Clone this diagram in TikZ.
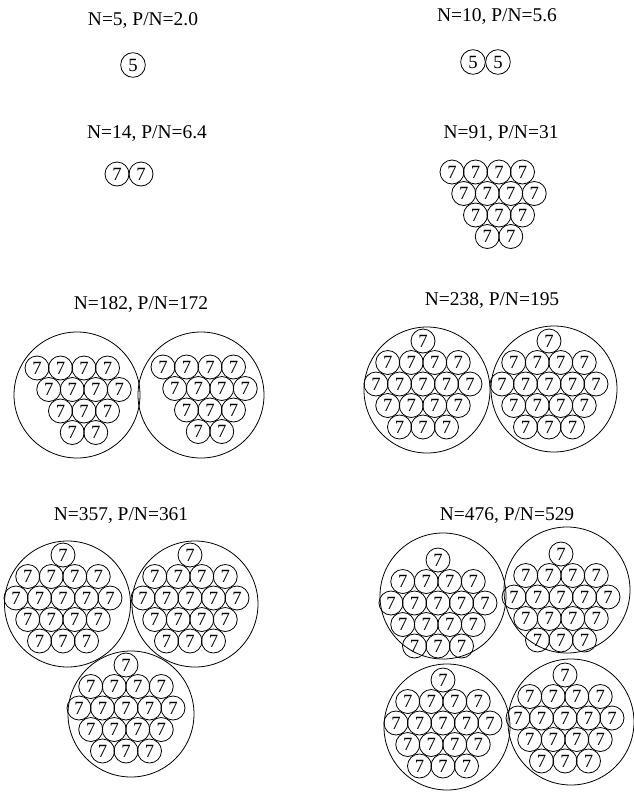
\documentclass[tikz,border=0pt]{standalone}
\usepackage{fontspec}
\setmainfont{Liberation Serif}
\def\DX{23.5}
\def\DY{21.5}
\tikzset{
  ttl/.style={font=\fontsize{14.6}{16}\selectfont, inner sep=0pt, anchor=center},
  sm/.style={circle, draw, line width=0.6pt, minimum size=18pt, inner sep=0pt, font=\fontsize{14}{14}\selectfont},
  smv/.style={circle, draw, line width=0.6pt, minimum size=18.5pt, inner sep=0pt, font=\fontsize{14}{14}\selectfont},
  big/.style={circle, draw, line width=0.6pt, minimum size=94.5pt, inner sep=0pt}
}
\newcommand{\tricl}[3]{%
  \foreach \r/\n/\s in {0/4/0, 1/4/0.5, 2/3/1, 3/2/1.5} {
    \foreach \i in {1,...,\n} {
      \node[sm] (#1-\r-\i) at ({#2+(\s+\i-1)*\DX}, {#3+\r*\DY}) {7};
    }
  }
}
\newcommand{\hexcl}[3]{%
  \node[sm] (#1-0-1) at (#2, {#3-2*\DY}) {7};
  \foreach \r/\n/\s in {1/4/-1.5, 2/5/-2, 3/4/-1.5, 4/3/-1} {
    \foreach \i in {1,...,\n} {
      \node[sm] (#1-\r-\i) at ({#2+(\s+\i-1)*\DX}, {#3+(\r-2)*\DY}) {7};
    }
  }
}
\begin{document}
\begin{tikzpicture}[x=0.75pt, y=-0.75pt]
\useasboundingbox (0,0) rectangle (633,793);
% titles
\node[ttl] (t1) at (143,21) {N=5, P/N=2.0};
\node[ttl] (t2) at (497,17) {N=10, P/N=5.6};
\node[ttl] (t3) at (147,134) {N=14, P/N=6.4};
\node[ttl] (t4) at (501,134) {N=91, P/N=31};
\node[ttl] (t5) at (141,305) {N=182, P/N=172};
\node[ttl] (t6) at (492,301) {N=238, P/N=195};
\node[ttl] (t7) at (121,516) {N=357, P/N=361};
\node[ttl] (t8) at (507,516) {N=476, P/N=529};
% N=5
\node[smv] (a1) at (133,65) {5};
% N=10
\node[smv] (b1) at (473,62) {5};
\node[smv] (b2) at (498,62) {5};
% N=14
\node[sm] (c1) at (117,174) {7};
\node[sm] (c2) at (141,174) {7};
% N=91
\tricl{d}{452}{172}
% N=182
\node[big] (e1) at (77,395) {};
\node[big] (e2) at (201,395) {};
\tricl{ea}{37}{368}
\tricl{eb}{163}{367}
% N=238
\node[big] (f1) at (427,390) {};
\node[big] (f2) at (554,389) {};
\hexcl{fa}{423}{384}
\hexcl{fb}{549}{384}
% N=357
\node[big] (g1) at (67.5,604) {};
\node[big] (g2) at (195,604) {};
\node[big] (g3) at (131,714) {};
\hexcl{ga}{63}{598}
\hexcl{gb}{190}{598}
\hexcl{gc}{126}{708}
% N=476
\node[big] (h1) at (443,596) {};
\node[big] (h2) at (567,590) {};
\node[big] (h3) at (447,727) {};
\node[big] (h4) at (571,722) {};
\hexcl{ha}{438}{603}
\hexcl{hb}{561}{597}
\hexcl{hc}{443}{723}
\hexcl{hd}{565}{718}
\end{tikzpicture}
\end{document}
